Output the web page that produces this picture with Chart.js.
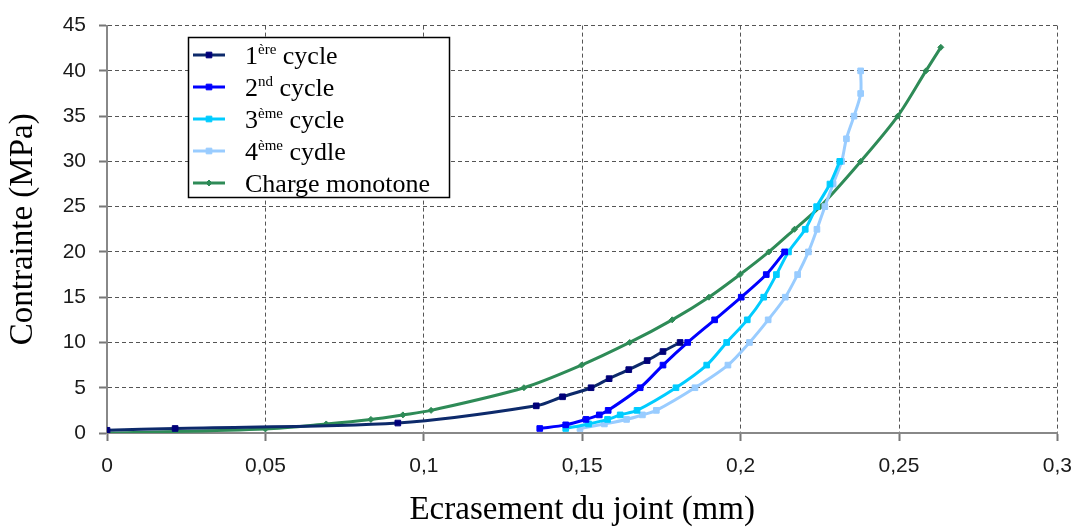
<!DOCTYPE html>
<html>
<head>
<meta charset="utf-8">
<script src="https://cdn.jsdelivr.net/npm/chart.js@4.4.1/dist/chart.umd.min.js"></script>
<style>
  html, body { margin: 0; padding: 0; background: #fff; }
  #wrap { width: 1085px; height: 531px; }
</style>
</head>
<body>
<div id="wrap"><canvas id="chart" width="1085" height="531"></canvas></div>
<script>
// values (x: mm, y: MPa)
const c1X = [0, 0.0215, 0.0918, 0.1355, 0.1438, 0.1528, 0.1585, 0.1647, 0.1705, 0.1755, 0.1809];
const c1Y = [0.3, 0.5, 1.1, 3.0, 4.0, 5.0, 6.0, 7.0, 8.0, 9.0, 10.0];

const c2X = [0.1366, 0.1448, 0.1512, 0.1554, 0.1582, 0.1683, 0.1755, 0.1833, 0.1918, 0.2002, 0.2081, 0.2139];
const c2Y = [0.5, 0.9, 1.5, 2.0, 2.5, 5.0, 7.5, 10, 12.5, 15, 17.5, 20];

const c3X = [0.1448, 0.152, 0.158, 0.162, 0.1673, 0.1796, 0.1893, 0.1956, 0.2021, 0.2073, 0.2113, 0.2151, 0.2204, 0.224, 0.2282, 0.2313];
const c3Y = [0.5, 1.0, 1.5, 2.0, 2.5, 5.0, 7.5, 10, 12.5, 15, 17.5, 20, 22.5, 25, 27.5, 30];

const c4X = [0.1493, 0.157, 0.164, 0.169, 0.1734, 0.1856, 0.196, 0.2028, 0.2087, 0.2141, 0.218, 0.2214, 0.2241, 0.2266, 0.2292, 0.2319, 0.2334, 0.2358, 0.2379, 0.2379];
const c4Y = [0.5, 1.0, 1.5, 2.0, 2.5, 5.0, 7.5, 10, 12.5, 15, 17.5, 20, 22.5, 25, 27.5, 30, 32.5, 35, 37.5, 40];

const monoX = [0, 0.05, 0.0692, 0.0833, 0.0934, 0.1023, 0.1316, 0.1498, 0.165, 0.1784, 0.19, 0.1998, 0.2089, 0.217, 0.2251, 0.2379, 0.2496, 0.2585, 0.2632];
const monoY = [0, 0.45, 1.0, 1.5, 2.0, 2.5, 5.0, 7.5, 10, 12.5, 15, 17.5, 20, 22.5, 25, 30, 35, 40, 42.6];

// legend text: [main, superscript, rest]
const legendParts = [
  ['1', 'ère', ' cycle'],
  ['2', 'nd', ' cycle'],
  ['3', 'ème', ' cycle'],
  ['4', 'ème', ' cydle'],
  ['Charge monotone', '', '']
];

const toPts = (xs, ys) => xs.map((x, i) => ({ x: x, y: ys[i] }));

const series = [
  { label: '1ère cycle', data: toPts(c1X, c1Y), color: '#0d2a6b', mark: '#00007a', style: 'rect', r: 4 },
  { label: '2nd cycle', data: toPts(c2X, c2Y), color: '#0000ff', mark: '#0000ff', style: 'rect', r: 4 },
  { label: '3ème cycle', data: toPts(c3X, c3Y), color: '#00ccff', mark: '#00ccff', style: 'rect', r: 4 },
  { label: '4ème cydle', data: toPts(c4X, c4Y), color: '#99ccff', mark: '#99ccff', style: 'rect', r: 4 },
  { label: 'Charge monotone', data: toPts(monoX, monoY), color: '#2e8b57', mark: '#2e8b57', style: 'rectRot', r: 3 }
];

const serif = '"Liberation Serif", "Times New Roman", serif';
const sans = '"Liberation Sans", Arial, sans-serif';

// legend box with superscripts, drawn on the canvas
const legendBox = {
  id: 'legendBox',
  afterDraw(chart) {
    const ctx = chart.ctx;
    const bx = 188, by = 37, bw = 261, bh = 160;
    ctx.save();
    ctx.fillStyle = '#fff';
    ctx.fillRect(bx, by, bw, bh);
    ctx.strokeStyle = '#000';
    ctx.lineWidth = 1.5;
    ctx.strokeRect(bx + 0.5, by + 0.5, bw, bh);
    chart.data.datasets.forEach((ds, i) => {
      const y = by + 18 + i * 32;
      ctx.strokeStyle = ds.borderColor;
      ctx.lineWidth = 3;
      ctx.beginPath();
      ctx.moveTo(193, y);
      ctx.lineTo(225, y);
      ctx.stroke();
      ctx.fillStyle = ds.pointBackgroundColor;
      ctx.strokeStyle = ds.pointBorderColor;
      ctx.lineWidth = 1;
      Chart.helpers.drawPoint(ctx, { pointStyle: ds.pointStyle, radius: ds.pointRadius, borderWidth: 1 }, 209, y);
      const p = legendParts[i];
      ctx.fillStyle = '#000';
      ctx.textBaseline = 'alphabetic';
      let tx = 245;
      ctx.font = '26px ' + serif;
      ctx.fillText(p[0], tx, y + 9);
      tx += ctx.measureText(p[0]).width;
      if (p[1]) {
        ctx.font = '15px ' + serif;
        ctx.fillText(p[1], tx, y - 1);
        tx += ctx.measureText(p[1]).width;
      }
      if (p[2]) {
        ctx.font = '26px ' + serif;
        ctx.fillText(p[2], tx, y + 9);
      }
    });
    ctx.restore();
  }
};

const gridOpts = {
  color: '#555',
  lineWidth: 1,
  tickLength: 8,
  tickColor: '#777',
  tickBorderDash: [],
  tickWidth: 2
};

const ctx = document.getElementById('chart').getContext('2d');
new Chart(ctx, {
  type: 'scatter',
  data: {
    datasets: series.map(s => ({
      label: s.label,
      data: s.data,
      showLine: true,
      borderColor: s.color,
      backgroundColor: s.mark,
      borderWidth: 3,
      tension: 0.3,
      pointStyle: s.style,
      pointRadius: s.r,
      pointBackgroundColor: s.mark,
      pointBorderColor: s.mark,
      pointBorderWidth: 1
    }))
  },
  options: {
    responsive: false,
    animation: false,
    layout: { padding: { top: 21, right: 22, left: 0, bottom: 0 } },
    plugins: {
      legend: { display: false },
      tooltip: { enabled: false }
    },
    scales: {
      x: {
        type: 'linear',
        min: 0,
        max: 0.3,
        ticks: {
          stepSize: 0.05,
          padding: 13,
          color: '#1a1a1a',
          font: { family: sans, size: 21 },
          callback: v => String(+v.toFixed(2)).replace('.', ',')
        },
        grid: gridOpts,
        // in v4 border.dash dashes the grid lines, the axis line stays solid
        border: { display: true, color: '#888', width: 2, dash: [4, 3] },
        title: {
          display: true,
          text: 'Ecrasement du joint (mm)',
          color: '#000',
          font: { family: serif, size: 33 },
          padding: { top: 2, bottom: 1 }
        },
        afterFit: s => { s.height = 98; }
      },
      y: {
        min: 0,
        max: 45,
        ticks: {
          stepSize: 5,
          padding: 13,
          color: '#1a1a1a',
          font: { family: sans, size: 21 }
        },
        grid: gridOpts,
        border: { display: true, color: '#888', width: 2, dash: [4, 3] },
        title: {
          display: true,
          text: 'Contrainte (MPa)',
          color: '#000',
          font: { family: serif, size: 33 },
          padding: { top: 4, bottom: 4 }
        },
        afterFit: s => { s.width = 107; }
      }
    }
  },
  plugins: [legendBox]
});
</script>
</body>
</html>
